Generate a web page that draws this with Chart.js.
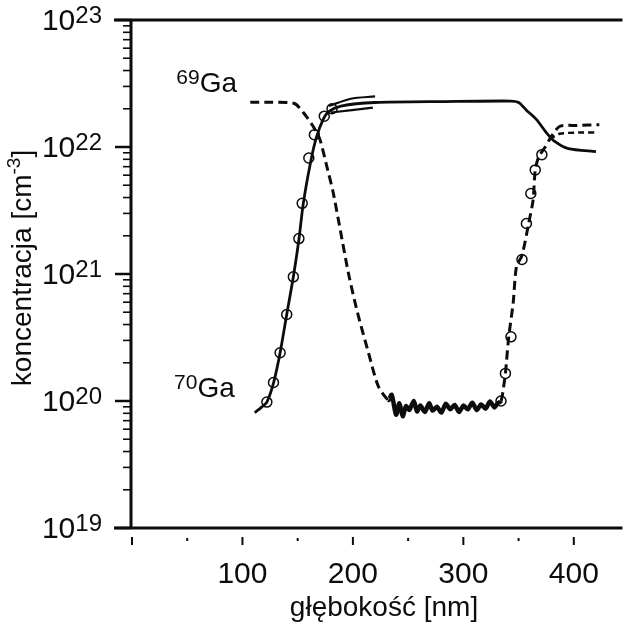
<!DOCTYPE html>
<html lang="pl">
<head>
<meta charset="UTF-8">
<title>Profil koncentracji Ga</title>
<script src="https://cdn.jsdelivr.net/npm/chart.js"></script>
<style>
  html, body { margin: 0; padding: 0; background: #fff; }
  #wrap { width: 629px; height: 628px; position: relative; }
</style>
</head>
<body>
<div id="wrap"><canvas id="wykres"></canvas></div>
<script>
// dane (głębokość w nm, koncentracja w cm^-3)
const ga69Depth = [108, 128, 148, 156, 165, 171, 177, 183, 190, 197, 205, 215, 224, 233,
  236, 240, 243, 246, 249, 252, 256, 259, 262, 266, 270, 273, 277, 281, 285, 289, 293, 297,
  301, 305, 309, 313, 317, 321, 325, 329, 332,
  335, 337, 339, 342, 346, 349, 354, 360, 364, 366, 369, 375, 379, 388, 404, 424];
const ga69Conc = [2.25e22, 2.25e22, 2.2e22, 1.87e22, 1.45e22, 1.15e22, 7.2e21, 4.4e21, 2.1e21, 1.0e21, 5.0e20, 2.4e20, 1.3e20, 1.02e20,
  1.12e20, 7.8e19, 9.6e19, 7.6e19, 9.1e19, 8.5e19, 1.0e20, 8.3e19, 9.2e19, 8.2e19, 9.6e19, 8.4e19, 9.0e19, 8.1e19, 9.5e19, 8.6e19, 9.3e19, 8.2e19,
  9.2e19, 8.6e19, 9.7e19, 8.5e19, 9.4e19, 8.7e19, 9.9e19, 8.9e19, 9.6e19,
  1.0e20, 1.23e20, 1.65e20, 3.2e20, 5.9e20, 1.15e21, 1.4e21, 2.5e21, 3.8e21, 6.6e21, 8.3e21, 1.0e22, 1.15e22, 1.45e22, 1.48e22, 1.5e22];

const ga69bDepth = [379, 388, 405, 422];
const ga69bConc = [1.15e22, 1.27e22, 1.3e22, 1.3e22];

const ga70Depth = [112, 118, 123, 129, 135, 141, 147, 152, 156, 163, 168, 174, 179, 190, 221, 284, 344, 351, 358, 367, 376, 384, 396, 421];
const ga70Conc = [8.1e19, 8.9e19, 9.8e19, 1.38e20, 2.4e20, 4.8e20, 9.5e20, 1.86e21, 3.6e21, 7.9e21, 1.2e22, 1.65e22, 1.9e22, 2.1e22, 2.24e22, 2.28e22, 2.3e22, 2.24e22, 1.95e22, 1.65e22, 1.3e22, 1.1e22, 9.7e21, 9.2e21];

const ga70UpDepth = [179, 199, 221];
const ga70UpConc = [2.1e22, 2.4e22, 2.5e22];
const ga70LowDepth = [181, 219];
const ga70LowConc = [1.87e22, 2.04e22];

const circLeftDepth = [123, 129, 135, 141, 147, 152, 155, 161, 166, 175, 182];
const circLeftConc = [9.8e19, 1.4e20, 2.4e20, 4.8e20, 9.5e20, 1.9e21, 3.6e21, 8.2e21, 1.25e22, 1.75e22, 2.0e22];
const circRightDepth = [335, 339, 344, 354, 358, 362, 366, 372];
const circRightConc = [1.0e20, 1.65e20, 3.2e20, 1.3e21, 2.5e21, 4.3e21, 6.6e21, 8.7e21];

// osie
const xTicks = [0, 100, 200, 300, 400];
const xTickLabels = ['', '100', '200', '300', '400'];
const xMinorTicks = [50, 150, 250, 350];
const yExponents = [19, 20, 21, 22, 23];

const ink = '#0c0c0c';
const font = '"Liberation Sans", Arial, sans-serif';

function pary(xs, ys) {
  return xs.map((x, i) => ({ x: x, y: ys[i] }));
}

const osiePlugin = {
  id: 'osie',
  afterDraw(chart) {
    const { ctx, chartArea: a, scales: { x, y } } = chart;
    ctx.save();
    ctx.strokeStyle = ink;
    ctx.fillStyle = ink;
    ctx.lineCap = 'butt';

    // ramka: lewa, górna, dolna
    ctx.lineWidth = 3;
    ctx.beginPath();
    ctx.moveTo(a.left - 17, a.top); ctx.lineTo(a.right, a.top);
    ctx.moveTo(a.left, a.top); ctx.lineTo(a.left, a.bottom);
    ctx.moveTo(a.left - 17, a.bottom); ctx.lineTo(a.right, a.bottom);
    ctx.stroke();

    // podziałka osi y (log)
    yExponents.forEach(e => {
      const py = y.getPixelForValue(Math.pow(10, e));
      ctx.lineWidth = 2.5;
      ctx.beginPath(); ctx.moveTo(a.left - 16, py); ctx.lineTo(a.left, py); ctx.stroke();
      if (e < 23) {
        ctx.lineWidth = 1.6;
        for (let m = 2; m <= 9; m++) {
          const pm = y.getPixelForValue(m * Math.pow(10, e));
          ctx.beginPath(); ctx.moveTo(a.left - 8, pm); ctx.lineTo(a.left, pm); ctx.stroke();
        }
      }
      // etykieta 10^e
      ctx.font = '30px ' + font;
      const wBase = ctx.measureText('10').width;
      ctx.font = '24px ' + font;
      const wExp = ctx.measureText(String(e)).width;
      const x0 = a.left - 29 - wBase - wExp;
      ctx.textAlign = 'left';
      ctx.textBaseline = 'alphabetic';
      ctx.font = '30px ' + font;
      ctx.fillText('10', x0, py + 10);
      ctx.font = '24px ' + font;
      ctx.fillText(String(e), x0 + wBase, py + 2.5);
    });

    // podziałka osi x
    ctx.lineWidth = 2;
    xTicks.forEach((v, i) => {
      const px = x.getPixelForValue(v) + 1;
      ctx.beginPath(); ctx.moveTo(px, a.bottom + 9); ctx.lineTo(px, a.bottom + 17); ctx.stroke();
      ctx.font = '30px ' + font;
      ctx.textAlign = 'center';
      ctx.fillText(xTickLabels[i], px, a.bottom + 55);
    });
    xMinorTicks.forEach(v => {
      const px = x.getPixelForValue(v) + 1;
      ctx.beginPath(); ctx.moveTo(px, a.bottom + 10); ctx.lineTo(px, a.bottom + 13); ctx.stroke();
    });

    // tytuł osi x
    ctx.font = '28px ' + font;
    ctx.textAlign = 'center';
    ctx.fillText('głębokość [nm]', 384, a.bottom + 88);

    // tytuł osi y (obrócony, z wykładnikiem)
    ctx.save();
    ctx.translate(31, 268);
    ctx.rotate(-Math.PI / 2);
    ctx.font = '28px ' + font;
    const t1 = 'koncentracja [cm';
    const w1 = ctx.measureText(t1).width;
    ctx.font = '19px ' + font;
    const w2 = ctx.measureText('-3').width;
    ctx.font = '28px ' + font;
    let sx = -(w1 + w2 + ctx.measureText(']').width) / 2;
    ctx.textAlign = 'left';
    ctx.fillText(t1, sx, 0);
    ctx.font = '19px ' + font;
    ctx.fillText('-3', sx + w1, -11);
    ctx.font = '28px ' + font;
    ctx.fillText(']', sx + w1 + w2, 0);
    ctx.restore();

    // podpisy izotopów
    const izotop = (mass, depth, conc) => {
      const px = x.getPixelForValue(depth);
      const py = y.getPixelForValue(conc);
      ctx.textAlign = 'left';
      ctx.font = '21px ' + font;
      const wm = ctx.measureText(mass).width;
      ctx.fillText(mass, px, py - 8);
      ctx.font = '28px ' + font;
      ctx.fillText('Ga', px + wm, py);
    };
    izotop('69', 41, 2.7e22);
    izotop('70', 39, 1.07e20);

    ctx.restore();
  }
};

const dashed = [9, 5];
const wSzumie = c => c.p0.parsed.x >= 233 && c.p1.parsed.x <= 335;

new Chart(document.getElementById('wykres'), {
  type: 'line',
  data: {
    datasets: [
      {
        label: '69Ga',
        data: pary(ga69Depth, ga69Conc),
        borderColor: ink, borderWidth: 3, borderDash: dashed,
        pointRadius: 0, tension: 0.25,
        segment: {
          borderDash: c => wSzumie(c) ? [] : undefined,
          borderWidth: c => wSzumie(c) ? 4.5 : undefined
        }
      },
      {
        label: '69Ga b',
        data: pary(ga69bDepth, ga69bConc),
        borderColor: ink, borderWidth: 2.5, borderDash: [6, 4],
        pointRadius: 0, tension: 0.25
      },
      {
        label: '70Ga',
        data: pary(ga70Depth, ga70Conc),
        borderColor: ink, borderWidth: 2.8,
        pointRadius: 0, tension: 0.25
      },
      {
        label: '70Ga gora',
        data: pary(ga70UpDepth, ga70UpConc),
        borderColor: ink, borderWidth: 2.2,
        pointRadius: 0, tension: 0.3
      },
      {
        label: '70Ga dol',
        data: pary(ga70LowDepth, ga70LowConc),
        borderColor: ink, borderWidth: 2.2,
        pointRadius: 0, tension: 0.3
      },
      {
        label: 'punkty',
        data: pary(circLeftDepth, circLeftConc).concat(pary(circRightDepth, circRightConc)),
        showLine: false,
        pointStyle: 'circle', pointRadius: 5,
        pointBorderColor: ink, pointBorderWidth: 1.5,
        pointBackgroundColor: 'rgba(255,255,255,0)'
      }
    ]
  },
  options: {
    responsive: true,
    maintainAspectRatio: false,
    animation: false,
    layout: { padding: { left: 131, top: 20, right: 0, bottom: 100 } },
    plugins: {
      legend: { display: false },
      tooltip: { enabled: false }
    },
    scales: {
      x: { type: 'linear', min: 0, max: 445, display: false },
      y: { type: 'logarithmic', min: 1e19, max: 1e23, display: false }
    }
  },
  plugins: [osiePlugin]
});
</script>
</body>
</html>
